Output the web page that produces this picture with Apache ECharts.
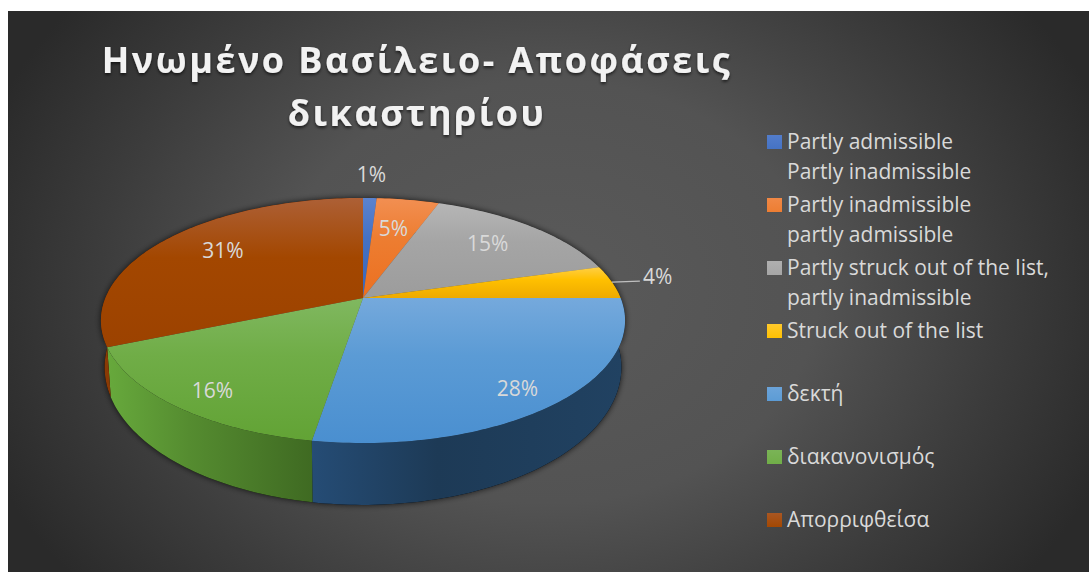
<!DOCTYPE html>
<html>
<head>
<meta charset="utf-8">
<style>
  html, body { margin: 0; padding: 0; background: #fff; }
  #chart {
    width: 1089px;
    height: 572px;
    background: radial-gradient(ellipse 600px 470px at 50% 50%, #5a5a5a 0%, #535353 45%, #3c3c3c 75%, #2a2a2a 100%) 8px 11px / 1081px 561px no-repeat;
  }
  /* only the title is bold, it has wide tracking in the original */
  #chart text[style*="bold"] { letter-spacing: 2.45px; }
</style>
<script src="https://cdn.jsdelivr.net/npm/echarts@6/dist/echarts.min.js"></script>
</head>
<body>
<div id="chart"></div>
<script>
const chartTitle = 'Ηνωμένο Βασίλειο- Αποφάσεις\nδικαστηρίου';
const categories = [
  'Partly admissible\nPartly inadmissible',
  'Partly inadmissible\npartly admissible',
  'Partly struck out of the list,\npartly inadmissible',
  'Struck out of the list',
  'δεκτή',
  'διακανονισμός',
  'Απορριφθείσα',
];
const values = [1.0, 4.6, 15.0, 4.4, 27.6, 16.1, 31.3];

// top face gradient per slice: light, base, low
const faceColors = [
  ['#5b83cf', '#4472c4', '#3a66b8'],
  ['#f28f52', '#ed7d31', '#ec7020'],
  ['#b6b6b6', '#a5a5a5', '#9c9c9c'],
  ['#ffcf45', '#ffc000', '#eeaa00'],
  ['#75a9dc', '#5b9bd5', '#4a8fd0'],
  ['#80b860', '#70ad47', '#62a335'],
  ['#ad6036', '#a34700', '#9c4200'],
];
const wallColors = [
  ['#2b4a85', '#2b4a85', '#2b4a85'],
  ['#a8561f', '#a8561f', '#a8561f'],
  ['#6f6f6f', '#6f6f6f', '#6f6f6f'],
  ['#ad8300', '#ad8300', '#ad8300'],
  ['#254c75', '#1d3a56', '#214262'],
  ['#67a93c', '#558c30', '#3f6a22'],
  ['#8a3a05', '#8a3a05', '#8a3a05'],
];

// label distance from the hub, 1 = rim, plus a small vertical nudge
const labelRadius = [1.3, 0.64, 0.72, 1.19, 0.82, 0.83, 0.7];
const labelNudge = [0, -3, -2, -3, 6, 4, -5, 0];
const leaderLength = [0, 0, 0, 28, 0, 0, 0];

// tilted disc: perspective factor and the two rim planes
const hubX = 363;
const tilt = 0.1837;
const topPlane = { a: 257.6, b: 118.4, cy: 298 };
const lowPlane = { a: 254, b: 133, cy: 342 };

const total = values.reduce((sum, v) => sum + v, 0);
const startShare = values.map((_, i) => values.slice(0, i).reduce((sum, v) => sum + v, 0) / total);

function project(angle, radius, plane) {
  const u = radius * Math.sin(angle);
  const v = radius * Math.cos(angle);
  const w = 1 + tilt * v;
  return [hubX + plane.a * u / w, plane.cy - plane.b * v / w];
}

function rim(start, end, plane) {
  const steps = Math.max(2, Math.ceil((end - start) / 0.02));
  const pts = [];
  for (let s = 0; s <= steps; s++) pts.push(project(start + (end - start) * s / steps, 1, plane));
  return pts;
}

function faceGradient(i) {
  return new echarts.graphic.LinearGradient(0, 0, 0, 1, [
    { offset: 0, color: faceColors[i][0] },
    { offset: 0.4, color: faceColors[i][1] },
    { offset: 1, color: faceColors[i][2] },
  ]);
}

function wallGradient(i) {
  return new echarts.graphic.LinearGradient(0, 0, 1, 0, [
    { offset: 0, color: wallColors[i][0] },
    { offset: 0.4, color: wallColors[i][1] },
    { offset: 1, color: wallColors[i][2] },
  ]);
}

function renderSlice(params, api) {
  const i = params.seriesIndex;
  const start = startShare[i] * Math.PI * 2;
  const end = start + api.value(0) / total * Math.PI * 2;
  const upper = rim(start, end, topPlane);
  const lower = rim(start, end, lowPlane).reverse();
  const wall = upper.concat(lower);
  const face = [project(0, 0, topPlane)].concat(upper);
  const mid = (start + end) / 2;
  const labelAt = project(mid, labelRadius[i], topPlane);

  const children = [
    {
      type: 'polygon',
      z2: 0,
      shape: { points: wall },
      style: { fill: '#000', shadowColor: 'rgba(0,0,0,0.75)', shadowBlur: 6 },
    },
    { type: 'polygon', z2: 1, shape: { points: wall }, style: { fill: wallGradient(i) } },
    { type: 'polygon', z2: 2, shape: { points: face }, style: { fill: faceGradient(i) } },
    {
      type: 'text',
      z2: 4,
      style: {
        x: labelAt[0],
        y: labelAt[1] + labelNudge[i],
        text: Math.round(api.value(0)) + '%',
        fill: '#d9d9d9',
        font: '21px "Open Sans"',
        align: 'center',
        verticalAlign: 'middle',
      },
    },
  ];

  if (leaderLength[i]) {
    const from = project(mid, 1, topPlane);
    children.push({
      type: 'line',
      z2: 3,
      shape: { x1: from[0], y1: from[1], x2: from[0] + leaderLength[i], y2: from[1] - 1 },
      style: { stroke: '#bfbfbf', lineWidth: 1.2 },
    });
  }
  return { type: 'group', children };
}

const chart = echarts.init(document.getElementById('chart'), null, { renderer: 'svg' });

chart.setOption({
  backgroundColor: 'transparent',
  animation: false,
  title: {
    text: chartTitle,
    left: 417,
    top: 33,
    padding: 0,
    textAlign: 'center',
    textStyle: {
      color: '#f2f2f2',
      fontFamily: 'Open Sans',
      fontWeight: 'bold',
      fontSize: 36,
      lineHeight: 53,
      textShadowColor: 'rgba(0,0,0,0.6)',
      textShadowBlur: 3,
      textShadowOffsetY: 2,
    },
  },
  legend: {
    orient: 'vertical',
    left: 767,
    top: 126,
    padding: 0,
    itemGap: 3,
    itemWidth: 15,
    itemHeight: 60,
    selectedMode: false,
    // the swatch sits on the first text line, so the path reserves the full two line height
    icon: 'path://M0 0L0.01 0ZM0 9H15V23H0ZM0 60L0.01 60Z',
    formatter: (name) => (name.includes('\n') ? name : name + '\n '),
    textStyle: { color: '#d9d9d9', fontFamily: 'Open Sans', fontSize: 21, lineHeight: 30 },
    data: categories.map((name, i) => ({ name, itemStyle: { color: faceGradient(i) } })),
  },
  series: categories.map((name, i) => ({
    type: 'custom',
    name,
    coordinateSystem: 'none',
    renderItem: renderSlice,
    itemStyle: { color: faceColors[i][1] },
    data: [[values[i]]],
  })),
});
</script>
</body>
</html>
